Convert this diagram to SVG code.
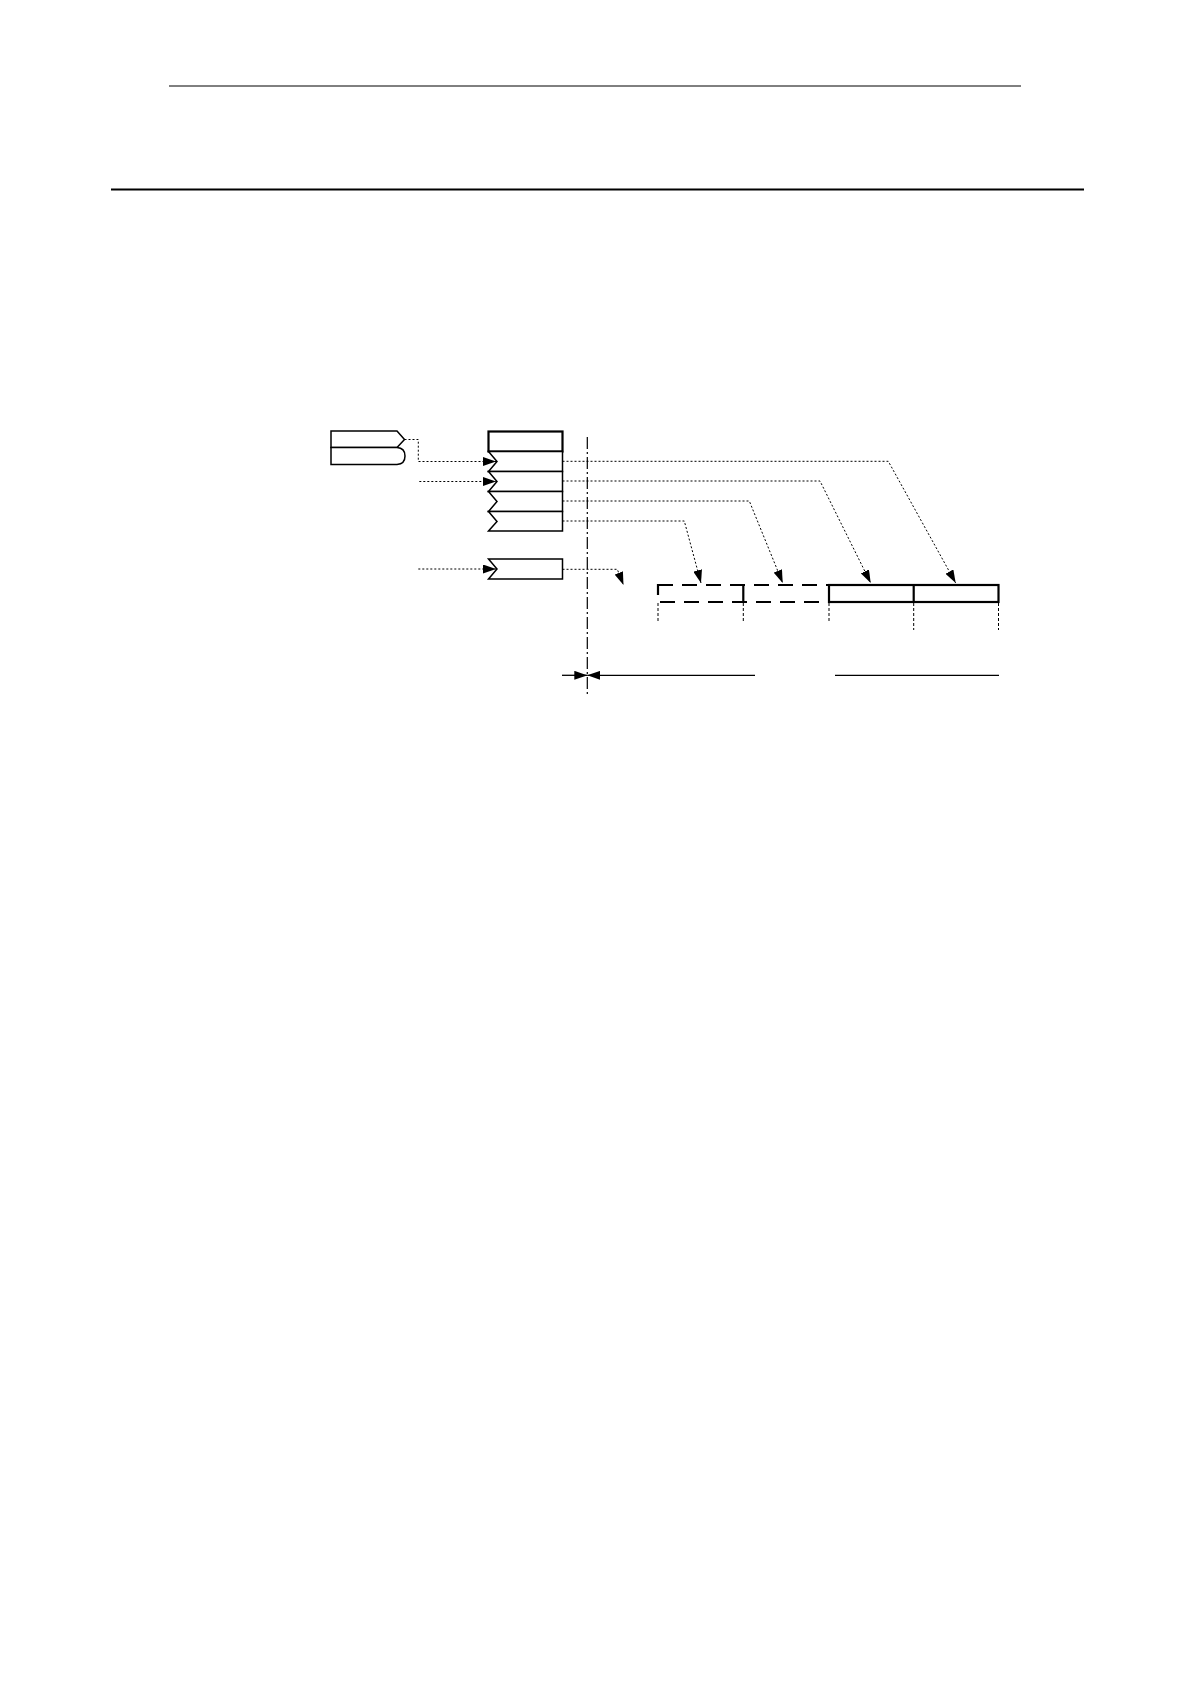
<svg xmlns="http://www.w3.org/2000/svg" width="1190" height="1684" viewBox="0 0 1190 1684">
<defs>
<style>
.box{fill:#fff;stroke:#000;stroke-width:1.5}
.thick{fill:#fff;stroke:#000;stroke-width:2.2}
.dot{fill:none;stroke:#000;stroke-width:1;stroke-dasharray:2 2}
.vdot{fill:none;stroke:#000;stroke-width:1;stroke-dasharray:3 2}
.dash{fill:none;stroke:#000;stroke-width:2.2;stroke-dasharray:15 9}
.solid{fill:none;stroke:#000;stroke-width:2.2}
.axis{fill:none;stroke:#000;stroke-width:1.2;stroke-dasharray:12 3 2 3}
.dim{fill:none;stroke:#000;stroke-width:1.3}
</style>
<marker id="ah" viewBox="0 0 13 9" refX="13" refY="4.5" markerWidth="13" markerHeight="9" markerUnits="userSpaceOnUse" orient="auto">
<path d="M0,0 L13,4.5 L0,9 Z" fill="#000"/>
</marker>
</defs>
<rect width="1190" height="1684" fill="#fff"/>
<g id="page-rules">
<line x1="169" y1="86" x2="1021" y2="86" stroke="#000" stroke-width="1"/>
<line x1="111" y1="189.5" x2="1084" y2="189.5" stroke="#000" stroke-width="2"/>
</g>
<g id="source">
<path class="box" d="M331,431 H397 L404.5,439.5 L397,447.5 H331 Z"/>
<path class="box" d="M331,447.5 H397 Q405,448 405,456 Q405,464 397,464.5 H331 Z" fill="#f4f4f4"/>
</g>
<g id="stack">
<rect class="thick" x="488.5" y="431.5" width="74" height="20"/>
<path class="box" d="M488.5,451.5 H562.5 V471.5 H488.5 L497,461.5 Z"/>
<path class="box" d="M488.5,471.5 H562.5 V491.5 H488.5 L497,481.5 Z"/>
<path class="box" d="M488.5,491.5 H562.5 V511.5 H488.5 L497,501.5 Z"/>
<path class="box" d="M488.5,511.5 H562.5 V531 H488.5 L497,521.5 Z"/>
</g>
<g id="lower-box">
<path class="box" d="M488.5,559 H562.5 V579 H488.5 L497,569 Z"/>
</g>
<g id="bar">
<path class="dash" d="M658,585 H829"/>
<path class="dash" d="M660,602 H829"/>
<line class="solid" x1="658" y1="584" x2="658" y2="595"/>
<line class="solid" x1="743.3" y1="584" x2="743.3" y2="602.5"/>
<rect class="thick" x="829" y="585" width="169.5" height="17" fill="none"/>
<line class="solid" x1="913.7" y1="585" x2="913.7" y2="602"/>
<line class="vdot" x1="658" y1="603" x2="658" y2="622"/>
<line class="vdot" x1="743.3" y1="603" x2="743.3" y2="622"/>
<line class="vdot" x1="829" y1="603" x2="829" y2="622"/>
<line class="vdot" x1="913.7" y1="603" x2="913.7" y2="630"/>
<line class="vdot" x1="998.5" y1="603" x2="998.5" y2="630"/>
</g>
<g id="axis">
<line class="axis" x1="587.3" y1="437" x2="587.3" y2="694"/>
</g>
<g id="connectors">
<polyline class="dot" points="404.5,439.5 418.3,439.5 418.3,461.5 496,461.5" marker-end="url(#ah)"/>
<polyline class="dot" points="419.3,481.5 496,481.5" marker-end="url(#ah)"/>
<polyline class="dot" points="418.3,569 496,569" marker-end="url(#ah)"/>
<polyline class="dot" points="562.5,461.3 888.3,461.3 955.7,583" marker-end="url(#ah)"/>
<polyline class="dot" points="562.5,481 820,481 870.7,583" marker-end="url(#ah)"/>
<polyline class="dot" points="562.5,501 749.3,501 782.7,583" marker-end="url(#ah)"/>
<polyline class="dot" points="562.5,521 684.3,521 701,583" marker-end="url(#ah)"/>
<polyline class="dot" points="562.5,569.3 617.3,569.3 623.5,585" marker-end="url(#ah)"/>
<line class="dim" x1="562" y1="675.3" x2="587.3" y2="675.3" marker-end="url(#ah)"/>
<line class="dim" x1="755" y1="675.3" x2="587.3" y2="675.3" marker-end="url(#ah)"/>
<line class="dim" x1="835" y1="675.3" x2="999" y2="675.3"/>
</g>
</svg>
